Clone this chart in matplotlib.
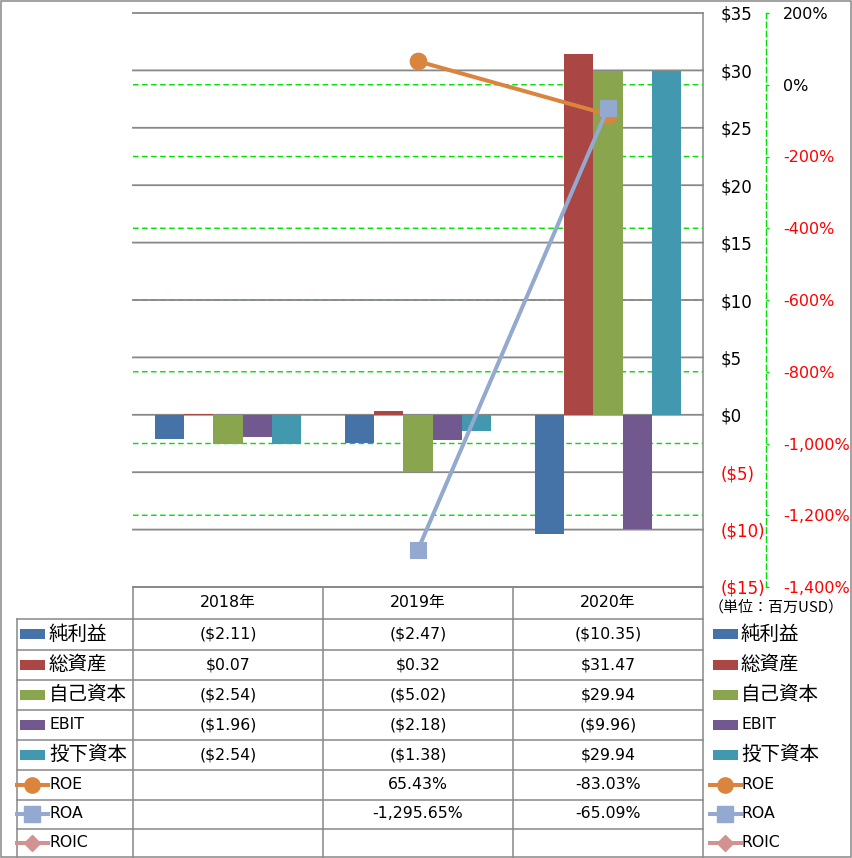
import numpy as np
import matplotlib
matplotlib.use('Agg')
import matplotlib.pyplot as plt
from matplotlib.patches import Rectangle
from matplotlib.lines import Line2D
from matplotlib import transforms

# ---------------- data ----------------
years = ['2018年', '2019年', '2020年']
bar_names = ['純利益', '総資産', '自己資本', 'EBIT', '投下資本']
net_income = [-2.11, -2.47, -10.35]
total_assets = [0.07, 0.32, 31.47]
equity = [-2.54, -5.02, 29.94]
ebit = [-1.96, -2.18, -9.96]
invested_capital = [-2.54, -1.38, 29.94]
line_names = ['ROE', 'ROA', 'ROIC']
roe = [np.nan, 65.43, -83.03]
roa = [np.nan, -1295.65, -65.09]
roic = [np.nan, np.nan, np.nan]
usd_ticks = [-15, -10, -5, 0, 5, 10, 15, 20, 25, 30, 35]
pct_ticks = [-1400, -1200, -1000, -800, -600, -400, -200, 0, 200]
unit_label = '（単位：百万USD）'

bar_series = [net_income, total_assets, equity, ebit, invested_capital]
line_series = [roe, roa, roic]
bar_colors = ['#4572A7', '#AA4643', '#89A54E', '#71588F', '#4198AF']
line_colors = ['#DB843D', '#93A9CF', '#D19392']
line_markers = ['o', 's', 'D']
marker_sizes = [12, 12, 9]

GRAY = '#888888'
GREEN = '#00E000'
LAT = ['DejaVu Sans', 'Noto Sans CJK JP']
CJK = ['Noto Sans CJK JP', 'DejaVu Sans']


def fmt_usd(v):
    if np.isnan(v):
        return ''
    return f'${v:.2f}' if v >= 0 else f'(${-v:.2f})'


def fmt_usd_tick(v):
    return f'${v:g}' if v >= 0 else f'(${-v:g})'


def fmt_pct(v):
    if np.isnan(v):
        return ''
    return f'{v:,.2f}%'


W, H = 853, 858
fig = plt.figure(figsize=(W / 100, H / 100), dpi=100)
fig.patch.set_facecolor('white')

# canvas axes in pixel coordinates for table / frame
cax = fig.add_axes([0, 0, 1, 1])
cax.set_xlim(0, W)
cax.set_ylim(H, 0)
cax.axis('off')

L, R, T, B = 133, 703, 13, 587
ax = fig.add_axes([L / W, 1 - B / H, (R - L) / W, (B - T) / H])
ax.patch.set_visible(False)
ax2 = ax.twinx()
ax2.patch.set_visible(False)

x = np.arange(len(years))
ax.set_xlim(-0.5, len(years) - 0.5)
ax.set_ylim(-15, 35)
ax2.set_ylim(-1400, 200)

# bars
w = 1 / 6.5
for j, (vals, c) in enumerate(zip(bar_series, bar_colors)):
    ax.bar(x + (j - 2) * w, vals, w, color=c, lw=0, zorder=2)

# gridlines (secondary green dashed below primary gray solid)
for v in usd_ticks:
    ax.axhline(v, color=GRAY, lw=1.3, zorder=0.6, clip_on=False, snap=False)
trans2 = transforms.blended_transform_factory(ax.transAxes, ax2.transData)
for v in pct_ticks[1:-1]:
    ax.add_line(Line2D([0, 1], [v, v], transform=trans2, color=GREEN,
                       lw=1.0, ls=(0, (4, 2.5)), zorder=0.5, snap=False))

# lines
for vals, c, m, ms in zip(line_series, line_colors, line_markers, marker_sizes):
    ax2.plot(x, vals, color=c, lw=2.9, marker=m, ms=ms, mec=c, mew=0.8,
             zorder=3, clip_on=False, solid_joinstyle='round')

# axes formatting
for s in ax.spines.values():
    s.set_visible(False)
for k, s in ax2.spines.items():
    s.set_visible(k == 'right')
ax.set_xticks([])
ax2.set_xticks([])
ax.yaxis.tick_right()
ax.set_yticks(usd_ticks, labels=[fmt_usd_tick(v) for v in usd_ticks])
ax.tick_params(axis='y', length=0, pad=13, labelsize=12)
for lbl, v in zip(ax.get_yticklabels(), usd_ticks):
    lbl.set_color('#FF0000' if v < 0 else 'black')
    lbl.set_family(LAT)

ax2.spines['right'].set_position(('axes', (766 - L) / (R - L)))
ax2.spines['right'].set_color(GREEN)
ax2.spines['right'].set_linestyle((0, (4, 2.5)))
ax2.spines['right'].set_linewidth(1.0)
ax2.set_yticks(pct_ticks, labels=[f'{v:,}%' for v in pct_ticks])
ax2.tick_params(axis='y', direction='out', length=2.5, width=1, color=GREEN,
                pad=10, labelsize=11.5)
for lbl, v in zip(ax2.get_yticklabels(), pct_ticks):
    lbl.set_color('#FF0000' if v < 0 else 'black')
    lbl.set_family(LAT)

# ---------------- table ----------------
lkw = dict(color=GRAY, lw=1.1)
# frame
cax.add_patch(Rectangle((1, 1), W - 2.5, H - 2.5, fill=False, edgecolor=GRAY, lw=1.1))
col_x = [L, 323, 513, R]
row_y = [B, 619, 649.5, 680, 710, 739.5, 770, 799.5, 828.5, 857]
# right plot border
cax.plot([R, R], [T, 857], **lkw)
# horizontal lines
cax.plot([L, R], [B, B], **lkw)
for yy in row_y[1:-1]:
    cax.plot([17, R], [yy, yy], **lkw)
# vertical lines
cax.plot([17, 17], [row_y[1], 857], **lkw)
for xx in col_x[:-1]:
    cax.plot([xx, xx], [B, 857], **lkw)

col_c = [(col_x[i] + col_x[i + 1]) / 2 for i in range(3)]
row_c = [(row_y[i] + row_y[i + 1]) / 2 for i in range(len(row_y) - 1)]

for i, yr in enumerate(years):
    cax.text(col_c[i], row_c[0], yr, ha='center', va='center', fontsize=11.3, family=LAT)

names = bar_names + line_names
all_vals = bar_series + line_series
for r, (nm, vals) in enumerate(zip(names, all_vals)):
    yc = row_c[r + 1]
    for i, v in enumerate(vals):
        txt = fmt_usd(v) if r < len(bar_names) else fmt_pct(v)
        cax.text(col_c[i], yc, txt, ha='center', va='center', fontsize=11.3, family=LAT)
    # legend glyphs (left column and right column)
    for gx, tx in ((20, 50), (713, 742)):
        if r < len(bar_names):
            cax.add_patch(Rectangle((gx, yc - 5), 25, 10, color=bar_colors[r], lw=0))
        else:
            k = r - len(bar_names)
            cax.plot([gx - 3, gx + 28], [yc, yc], color=line_colors[k], lw=2.9)
            cax.plot([gx + 12.5], [yc], marker=line_markers[k],
                     ms=marker_sizes[k] - 1, color=line_colors[k], mec=line_colors[k])
        if nm.isascii():
            cax.text(tx, yc, nm, ha='left', va='center', fontsize=11.3, family=LAT)
        else:
            cax.text(tx - 1, yc, nm, ha='left', va='center', fontsize=14, family=CJK)

cax.text(776, 607, unit_label, ha='center', va='center', fontsize=10.8, family=CJK)

fig.savefig('out.png', dpi=100, facecolor='white')
